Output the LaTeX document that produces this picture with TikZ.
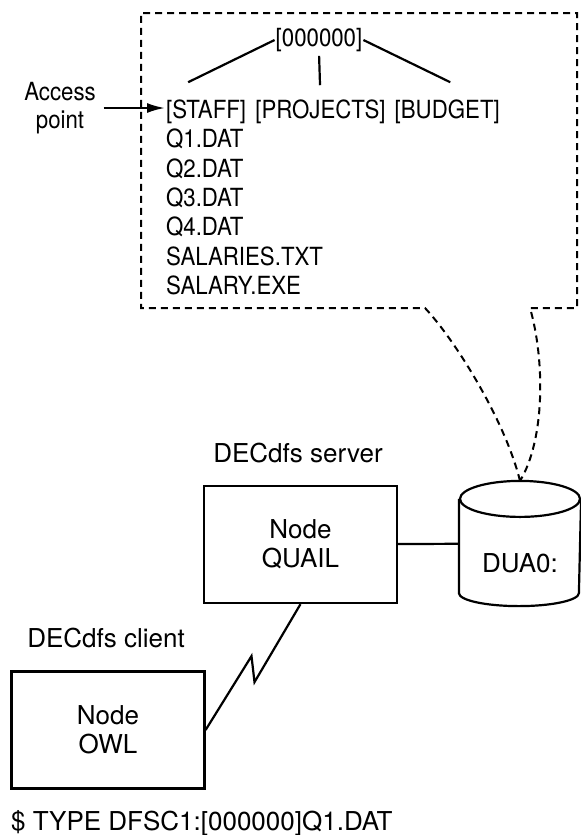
\documentclass[tikz,border=0pt]{standalone}
\usepackage{fontspec}
\setmainfont{TeX Gyre Heros}
\newfontfamily\narrowfont{TeX Gyre Heros}[FakeStretch=0.89]
\usetikzlibrary{arrows.meta,positioning}
\tikzset{
  host/.style={draw,minimum width=96.5pt,minimum height=58.5pt,align=center,inner sep=0pt},
  file/.style={anchor=base west,inner sep=0pt,font=\narrowfont\fontsize{12.5}{14}\selectfont},
  callout/.style={line width=1pt,dash pattern=on 3.5pt off 2.5pt},
}
\begin{document}
\begin{tikzpicture}[x=0.5pt,y=-0.5pt,line width=1.1pt,font=\fontsize{13}{14.5}\selectfont]
  \useasboundingbox (0,0) rectangle (581,835);
  \path (165,118) node[file] (staff) {[STAFF]}
    +(0,29.5) node[file] (q1) {Q1.DAT}
    +(0,59) node[file] (q2) {Q2.DAT}
    +(0,88) node[file] (q3) {Q3.DAT}
    +(0,117.5) node[file] (q4) {Q4.DAT}
    +(0,147) node[file] (salaries) {SALARIES.TXT}
    +(0,176) node[file] (salary) {SALARY.EXE};
  \node[file,base right=3.5pt of staff] (projects) {[PROJECTS]};
  \node[file,base right=3.5pt of projects] (budget) {[BUDGET]};
  \node[file,anchor=center] (root) at (319,40) {[000000]};
  \draw (root.west) -- ([xshift=-9pt,yshift=8pt]staff.north);
  \draw[shorten <=1.5pt,shorten >=6.5pt] (root.south) -- (projects.north);
  \draw (root.east) -- ([xshift=1.5pt,yshift=8pt]budget.north);
  \node[align=center,font=\narrowfont\fontsize{12.5}{14}\selectfont] (access) at (60,108) {Access\\point};
  \draw[-{Latex[length=9pt,width=5pt]}] (access.east) -- (access.east -| staff.west);

  \node[minimum width=60pt,minimum height=61.5pt,inner sep=0pt] (disk) at (520,543.5) {};
  \draw ([yshift=-9pt]disk.north) ellipse[x radius=30pt,y radius=9pt];
  \draw ([yshift=-9pt]disk.north west) -- ([yshift=6.5pt]disk.south west)
    arc[start angle=180,end angle=360,x radius=30pt,y radius=6.5pt] -- ([yshift=-9pt]disk.north east);
  \node (dua) at (520,563) {DUA0:};
  \draw[callout] (disk.north) .. controls (505,420) and (455,340) .. (425,308)
    -- (141,308) -- (141,13) -- (577,13) -- (577,308) -- (530,308)
    .. controls (545,360) and (545,440) .. (disk.north);

  \node[host] (quail) at (300.5,544.5) {Node\\QUAIL};
  \node (server) at (298,453) {DECdfs server};
  \node[host] (owl) at (108,730) {Node\\OWL};
  \node (client) at (106,638) {DECdfs client};
  \draw (quail) -- (disk);
  \draw (quail.south) -- ++(-46,78) -- ++(-3,-26) -- (owl.east);
  \node[anchor=base west,inner sep=0pt] (cmd) at (10,830) {\$ TYPE DFSC1:[000000]Q1.DAT};
\end{tikzpicture}
\end{document}
